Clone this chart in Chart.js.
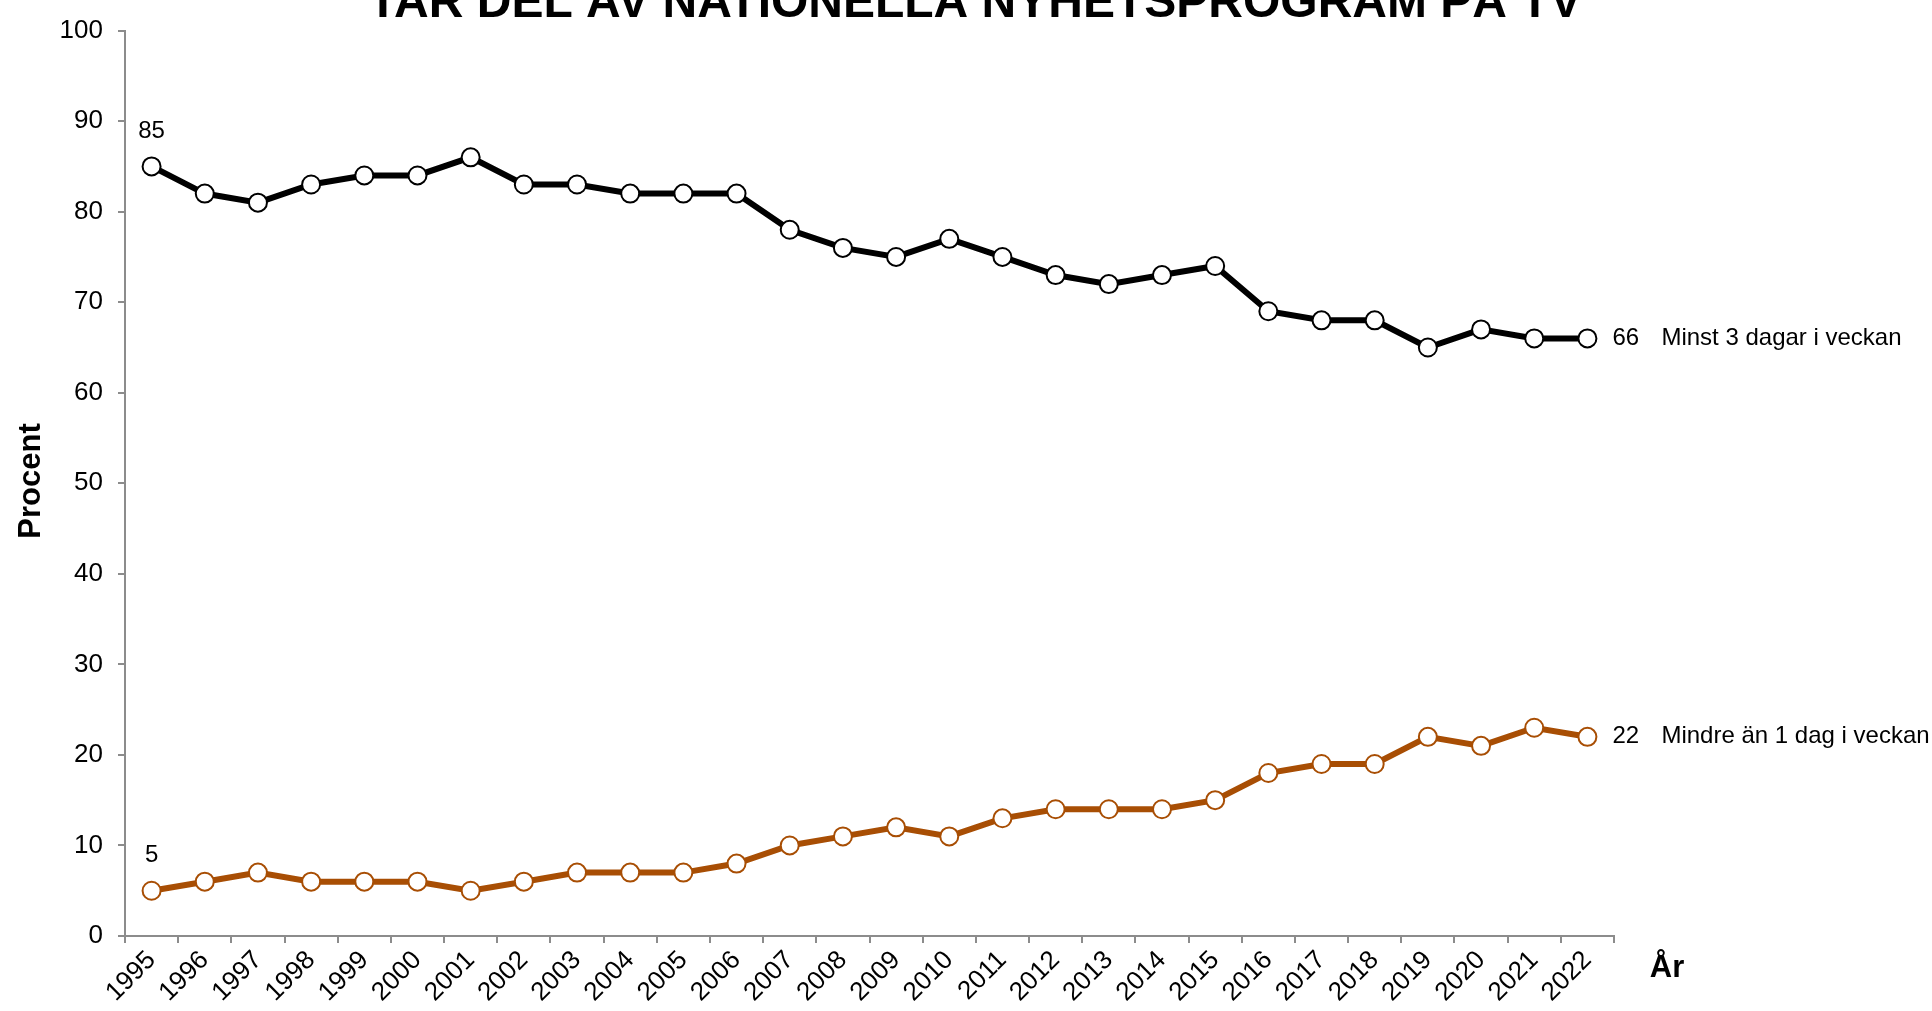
<!DOCTYPE html>
<html>
<head>
<meta charset="utf-8">
<script src="https://cdn.jsdelivr.net/npm/chart.js"></script>
<style>
    body { margin: 0; background: #fff; }
    #wrap { width: 1932px; height: 1011px; }
</style>
</head>
<body>
<div id="wrap"><canvas id="graficoNyheter" width="1932" height="1011"></canvas></div>
<script>
// år 1995-2022
const years = ['1995', '1996', '1997', '1998', '1999', '2000', '2001', '2002', '2003', '2004',
    '2005', '2006', '2007', '2008', '2009', '2010', '2011', '2012', '2013', '2014',
    '2015', '2016', '2017', '2018', '2019', '2020', '2021', '2022'];

const minst3Dagar = [85, 82, 81, 83, 84, 84, 86, 83, 83, 82, 82, 82, 78, 76, 75, 77, 75, 73, 72, 73,
    74, 69, 68, 68, 65, 67, 66, 66];

const mindreAn1Dag = [5, 6, 7, 6, 6, 6, 5, 6, 7, 7, 7, 8, 10, 11, 12, 11, 13, 14, 14, 14,
    15, 18, 19, 19, 22, 21, 23, 22];

const seriesNames = ['Minst 3 dagar i veckan', 'Mindre än 1 dag i veckan'];
const yTicks = [0, 10, 20, 30, 40, 50, 60, 70, 80, 90, 100];

const titel = 'TAR DEL AV NATIONELLA NYHETSPROGRAM PÅ TV';
const fontFamily = '"Liberation Sans", Arial, sans-serif';
const axisGray = '#8c8c8c';
const orange = '#A84E04';

const textPlugin = {
    id: 'textPlugin',
    afterDatasetsDraw(chart) {
        const ctx = chart.ctx;
        ctx.save();
        ctx.fillStyle = '#000';

        // titel (klipps i överkanten som i originalet)
        ctx.font = 'bold 48px ' + fontFamily;
        ctx.textAlign = 'center';
        ctx.textBaseline = 'alphabetic';
        ctx.fillText(titel, 975, 17);

        // axeltitlar
        ctx.font = 'bold 31px ' + fontFamily;
        ctx.textBaseline = 'middle';
        ctx.fillText('År', 1667, 968);
        ctx.save();
        ctx.translate(31, 481);
        ctx.rotate(-Math.PI / 2);
        ctx.fillText('Procent', 0, 0);
        ctx.restore();

        // värden vid första och sista punkten
        ctx.font = '24px ' + fontFamily;
        chart.data.datasets.forEach(function (ds, i) {
            const pts = chart.getDatasetMeta(i).data;
            const first = pts[0];
            const last = pts[pts.length - 1];
            ctx.textAlign = 'center';
            ctx.fillText(String(ds.data[0]), first.x, first.y - 35);
            ctx.textAlign = 'left';
            ctx.fillText(String(ds.data[ds.data.length - 1]), last.x + 25, last.y);
            ctx.fillText(seriesNames[i], last.x + 74, last.y);
        });
        ctx.restore();
    }
};

const config = {
    type: 'line',
    data: {
        labels: years,
        datasets: [{
            label: seriesNames[0],
            data: minst3Dagar,
            borderColor: '#000',
            borderWidth: 6,
            pointRadius: 9,
            pointBorderWidth: 2,
            pointBackgroundColor: '#fff',
            pointBorderColor: '#000',
            tension: 0
        }, {
            label: seriesNames[1],
            data: mindreAn1Dag,
            borderColor: orange,
            borderWidth: 6,
            pointRadius: 9,
            pointBorderWidth: 2,
            pointBackgroundColor: '#fff',
            pointBorderColor: orange,
            tension: 0
        }]
    },
    options: {
        responsive: false,
        animation: false,
        layout: {
            padding: { top: 26, right: 318, left: 0, bottom: 0 }
        },
        plugins: {
            legend: { display: false },
            tooltip: { enabled: false }
        },
        scales: {
            x: {
                offset: true,
                grid: {
                    offset: true,
                    drawOnChartArea: false,
                    drawTicks: true,
                    tickLength: 7,
                    color: axisGray,
                    lineWidth: 2
                },
                border: { color: axisGray, width: 2 },
                ticks: {
                    color: '#000',
                    font: { size: 26, family: fontFamily },
                    minRotation: 45,
                    maxRotation: 45,
                    autoSkip: false,
                    padding: 2
                },
                afterFit: function (scale) { scale.height = 75; }
            },
            y: {
                min: yTicks[0],
                max: yTicks[yTicks.length - 1],
                afterBuildTicks: function (scale) {
                    scale.ticks = yTicks.map(function (v) { return { value: v }; });
                },
                grid: {
                    drawOnChartArea: false,
                    drawTicks: true,
                    tickLength: 7,
                    color: axisGray,
                    lineWidth: 2
                },
                border: { color: axisGray, width: 2 },
                ticks: {
                    color: '#000',
                    font: { size: 26, family: fontFamily },
                    padding: 15
                },
                afterFit: function (scale) { scale.width = 125; }
            }
        }
    },
    plugins: [textPlugin]
};

new Chart(document.getElementById('graficoNyheter'), config);
</script>
</body>
</html>
